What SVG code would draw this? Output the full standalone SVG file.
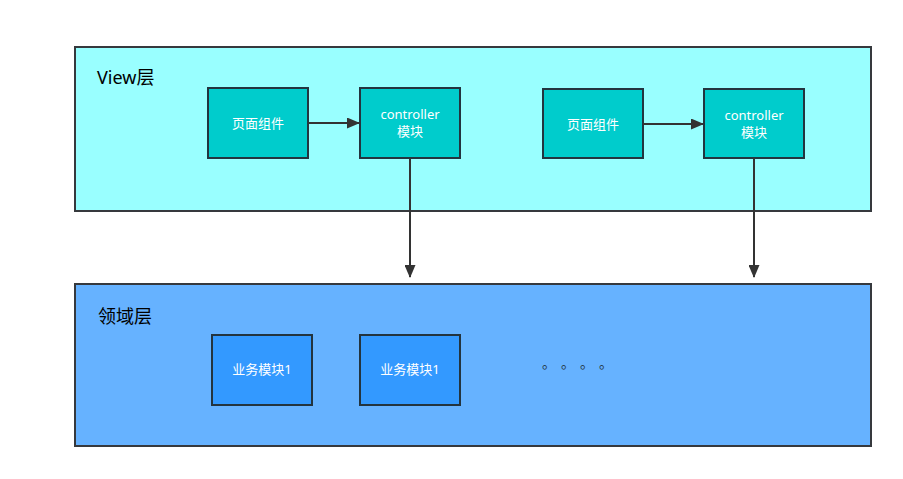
<svg xmlns="http://www.w3.org/2000/svg" width="903" height="479" viewBox="0 0 903 479">
<style>
.layer{stroke:#36393d;stroke-width:2}
.node{stroke:#23343f;stroke-width:2}
.t{font-family:"Noto Sans","Noto Sans CJK SC",sans-serif;fill:#ffffff;font-size:13px;text-anchor:middle}
.h{font-family:"Noto Sans","Noto Sans CJK SC",sans-serif;fill:#000000;font-size:18px}
.d{font-family:"Noto Sans CJK SC",sans-serif;fill:#23343f;font-size:14px}
.c{stroke:#333333;stroke-width:2;fill:none;marker-end:url(#arr)}
</style>
<defs>
<marker id="arr" viewBox="0 0 13 11" refX="12" refY="5.5" markerWidth="13" markerHeight="11" markerUnits="userSpaceOnUse" orient="auto">
<path d="M0,0 L13,5.5 L0,11 z" fill="#333333"/>
</marker>
</defs>
<rect width="903" height="479" fill="#ffffff"/>
<g id="view-layer">
<rect class="layer" x="75" y="47" width="796" height="164" fill="#99ffff"/>
<text class="h" x="97" y="84" font-size="19">View层</text>
</g>
<g id="domain-layer">
<rect class="layer" x="75" y="284" width="796" height="162" fill="#66b2ff"/>
<text class="h" x="98" y="323">领域层</text>
</g>
<g id="page1">
<rect class="node" x="208" y="88" width="100" height="70" fill="#00cccc"/>
<text class="t" x="258" y="128">页面组件</text>
</g>
<g id="ctrl1">
<rect class="node" x="360" y="88" width="100" height="70" fill="#00cccc"/>
<text class="t" x="410" y="119" font-size="12.5">controller</text>
<text class="t" x="410" y="136" font-size="12.5">模块</text>
</g>
<g id="page2">
<rect class="node" x="543" y="89" width="100" height="69" fill="#00cccc"/>
<text class="t" x="593" y="129">页面组件</text>
</g>
<g id="ctrl2">
<rect class="node" x="704" y="89" width="100" height="69" fill="#00cccc"/>
<text class="t" x="754" y="120" font-size="12.5">controller</text>
<text class="t" x="754" y="137" font-size="12.5">模块</text>
</g>
<g id="biz1">
<rect class="node" x="212" y="335" width="100" height="70" fill="#3399ff"/>
<text class="t" x="262" y="374">业务模块1</text>
</g>
<g id="biz2">
<rect class="node" x="360" y="335" width="100" height="70" fill="#3399ff"/>
<text class="t" x="410" y="374">业务模块1</text>
</g>
<g id="ellipsis">
<text class="d" x="542" y="368">。</text>
<text class="d" x="561" y="368">。</text>
<text class="d" x="580" y="368">。</text>
<text class="d" x="599" y="368">。</text>
</g>
<g id="connectors">
<line class="c" x1="308" y1="123" x2="359" y2="123"/>
<line class="c" x1="643" y1="124" x2="703" y2="124"/>
<line class="c" x1="410" y1="158" x2="410" y2="277"/>
<line class="c" x1="754" y1="158" x2="754" y2="277"/>
</g>
</svg>
